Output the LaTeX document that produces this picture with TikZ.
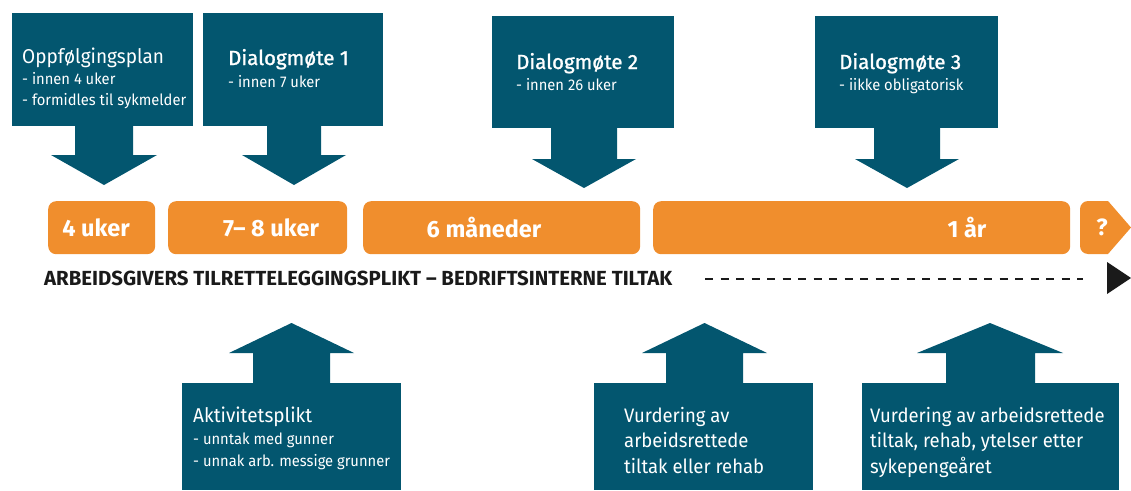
\documentclass[tikz,border=0pt]{standalone}
\usepackage{fontspec}
\setmainfont{Fira Sans}[FakeStretch=0.95]
\newfontfamily\medf{Fira Sans}[FakeStretch=1.0, FakeBold=1.2]
\newfontfamily\boldf{Fira Sans Bold}[FakeStretch=1.0]
\definecolor{boxblue}{RGB}{3,86,111}
\definecolor{orng}{RGB}{240,142,45}
\definecolor{ink}{RGB}{26,26,26}
\begin{document}
\begin{tikzpicture}[x=1pt,y=-1pt,
  panel/.style={fill=boxblue, draw=none, inner sep=0pt, anchor=north west},
  bar/.style={fill=orng, draw=none, rounded corners=8pt, inner sep=0pt, anchor=north west, minimum height=53pt},
  ttl/.style={anchor=base west, inner sep=0pt, text=white, font=\fontsize{20}{24}\selectfont},
  mttl/.style={anchor=base west, inner sep=0pt, text=white, font=\medf\fontsize{20.5}{24}\selectfont},
  sub/.style={anchor=base west, inner sep=0pt, text=white, font=\fontsize{15.5}{18}\selectfont},
  big/.style={anchor=base west, inner sep=0pt, text=white, font=\fontsize{19.5}{24}\selectfont},
  bartxt/.style={anchor=center, inner sep=0pt, text=white, font=\boldf\fontsize{23.5}{26}\selectfont},
]
\useasboundingbox (0,0) rectangle (1131,490);

% ---------- top panels ----------
\node[panel, minimum width=181pt, minimum height=113pt] (p1) at (12,13) {};
\fill[boxblue] (75,125) -- (75,155) -- (51,155) -- (104,185) -- (157,155) -- (133,155) -- (133,125) -- cycle;
\node[ttl] (p1t) at (22,63) {Oppfølgingsplan};
\node[sub] (p1a) at (22,84) {- innen 4 uker};
\node[sub] (p1b) at (22,105) {- formidles til sykmelder};

\node[panel, minimum width=180pt, minimum height=113pt] (p2) at (203,13) {};
\fill[boxblue] (267,125) -- (267,155) -- (242,155) -- (294,185) -- (346,155) -- (321,155) -- (321,125) -- cycle;
\node[mttl] (p2t) at (228,65) {Dialogmøte 1};
\node[sub] (p2a) at (228,87) {- innen 7 uker};

\node[panel, minimum width=182pt, minimum height=112pt] (p3) at (492,16) {};
\fill[boxblue] (551,127) -- (551,159) -- (532,159) -- (584,188) -- (636,159) -- (617,159) -- (617,127) -- cycle;
\node[mttl] (p3t) at (516,69) {Dialogmøte 2};
\node[sub] (p3a) at (516,90) {- innen 26 uker};

\node[panel, minimum width=183pt, minimum height=112pt] (p4) at (815,16) {};
\fill[boxblue] (874,127) -- (874,159) -- (855,159) -- (907,188) -- (959,159) -- (940,159) -- (940,127) -- cycle;
\node[mttl] (p4t) at (839,69) {Dialogmøte 3};
\node[sub] (p4a) at (839,90) {- iikke obligatorisk};

% ---------- orange timeline ----------
\node[bar, minimum width=107pt] (o1) at (48,201) {};
\node[bar, minimum width=179pt] (o2) at (168,201) {};
\node[bar, minimum width=277pt] (o3) at (363,201) {};
\node[bar, minimum width=417pt] (o4) at (653,201) {};
\fill[orng] (1108,201) [rounded corners=8pt] -- (1080,201) -- (1080,254) [sharp corners] -- (1108,254) -- (1131,227.5) -- cycle;
\coordinate (o5) at (1102,227.5);

\node[bartxt] (o1t) at (96,227.5) {4 uker};
\node[bartxt] (o2t) at (271,228) {7– 8 uker};
\node[bartxt] (o3t) at (484,228) {6 måneder};
\node[bartxt] (o4t) at (967,228) {1 år};
\node[bartxt] (o5t) at (o5) {?};

% ---------- banner line ----------
\node[anchor=west, inner sep=0pt, text=ink, font=\boldf\fontsize{20.4}{22}\selectfont] (ban) at (44,278) {ARBEIDSGIVERS TILRETTELEGGINGSPLIKT – BEDRIFTSINTERNE TILTAK};
\coordinate (d1) at (705,279);
\coordinate (d2) at (1083,279);
\draw[ink, line width=1.4pt, dash pattern=on 8pt off 7.5pt] (d1) -- (d2);
\fill[ink] (1107,262) -- (1131,278) -- (1107,294) -- cycle;

% ---------- bottom panels ----------
\node[panel, minimum width=219pt, minimum height=107pt] (b1) at (182,383) {};
\fill[boxblue] (253,384) -- (253,353) -- (229,353) -- (291.5,323) -- (354,353) -- (330,353) -- (330,384) -- cycle;
\node[ttl] (b1t) at (193,422) {Aktivitetsplikt};
\node[sub] (b1a) at (193,444) {- unntak med gunner};
\node[sub] (b1b) at (193,466) {- unnak arb. messige grunner};

\node[panel, minimum width=219pt, minimum height=107pt] (b2) at (594,383) {};
\fill[boxblue] (666,384) -- (666,353) -- (642,353) -- (704.5,323) -- (767,353) -- (743,353) -- (743,384) -- cycle;
\node[big] (b2a) at (624,422) {Vurdering av};
\node[big] (b2b) at (624,447.5) {arbeidsrettede};
\node[big] (b2c) at (624,473) {tiltak eller rehab};

\node[panel, minimum width=257pt, minimum height=107pt] (b3) at (862,383) {};
\fill[boxblue] (946,384) -- (946,353) -- (917,353) -- (990,323) -- (1063,353) -- (1035,353) -- (1035,384) -- cycle;
\node[big] (b3a) at (870,422) {Vurdering av arbeidsrettede};
\node[big] (b3b) at (870,447.5) {tiltak, rehab, ytelser etter};
\node[big] (b3c) at (870,473) {sykepengeåret};
\end{tikzpicture}
\end{document}
